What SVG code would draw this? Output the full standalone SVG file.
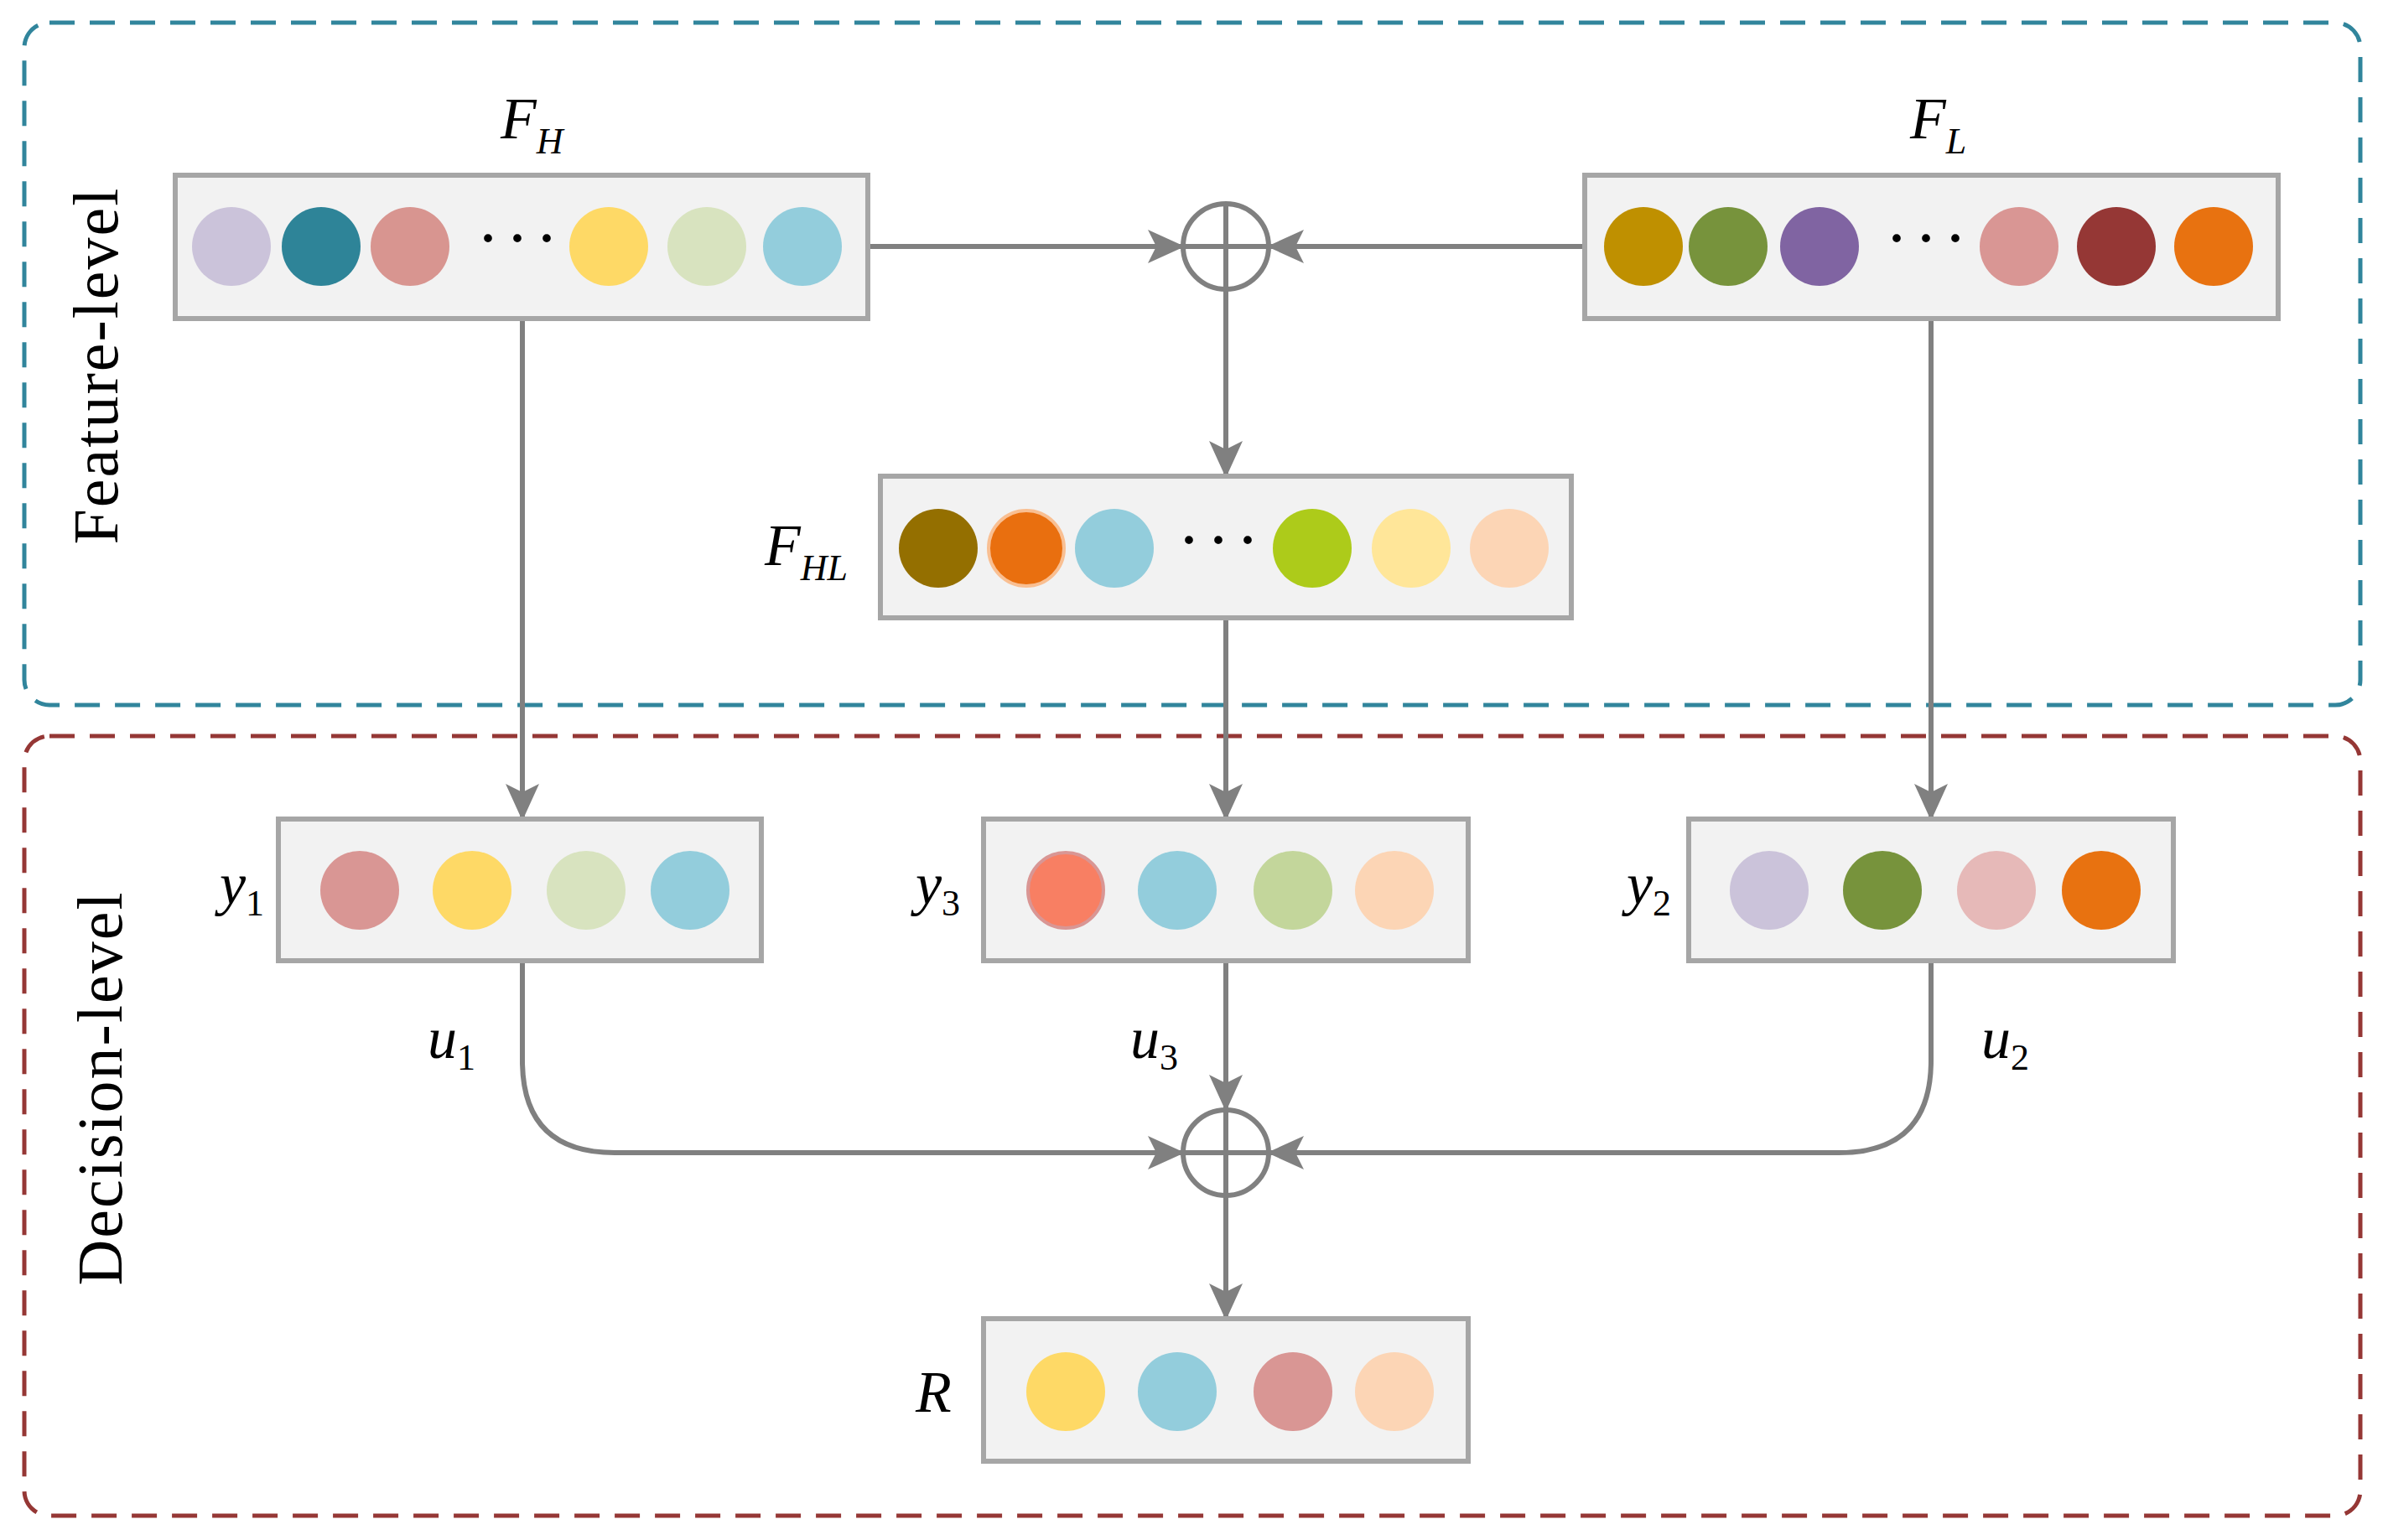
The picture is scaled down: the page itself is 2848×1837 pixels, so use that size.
<svg xmlns="http://www.w3.org/2000/svg" width="2848" height="1837" viewBox="0 0 2848 1837">
<style>
.box{fill:#f2f2f2;stroke:#a6a6a6;stroke-width:6}
.c{stroke:#808080;stroke-width:6;fill:none}
.lab{font-family:"Liberation Serif",serif;font-style:italic;font-size:70px;fill:#000}
.sub{font-size:44px}
.side{font-family:"Liberation Serif",serif;font-size:76px;fill:#000;letter-spacing:2px}
.dots{font-family:"Liberation Serif",serif;font-size:60px;font-weight:bold;fill:#000}
</style>
<defs>
<marker id="ah" markerUnits="userSpaceOnUse" markerWidth="44" markerHeight="44" viewBox="0 0 44 44" refX="42" refY="22" orient="auto">
<path d="M0 2 L44 22 L0 42 L10 22 Z" fill="#808080"/>
</marker>
</defs>
<rect x="29" y="27" width="2786" height="814" rx="30" fill="none" stroke="#31859C" stroke-width="5" stroke-dasharray="30 18"/>
<rect x="29" y="878" width="2786" height="930" rx="30" fill="none" stroke="#953735" stroke-width="5" stroke-dasharray="30 18"/>
<text class="side" transform="translate(140 436) rotate(-90)" text-anchor="middle">Feature-level</text>
<text class="side" transform="translate(145 1298) rotate(-90)" text-anchor="middle">Decision-level</text>
<g id="connectors">
<path class="c" d="M1035 294 H1411" marker-end="url(#ah)"/>
<path class="c" d="M1890 294 H1513" marker-end="url(#ah)"/>
<path class="c" d="M1462 345 V568" marker-end="url(#ah)"/>
<path class="c" d="M623 380 V977" marker-end="url(#ah)"/>
<path class="c" d="M2303 380 V977" marker-end="url(#ah)"/>
<path class="c" d="M1462 737 V977" marker-end="url(#ah)"/>
<path class="c" d="M1462 1146 V1324" marker-end="url(#ah)"/>
<path class="c" d="M623 1146 V1265 Q623 1375 733 1375 H1411" marker-end="url(#ah)"/>
<path class="c" d="M2303 1146 V1265 Q2303 1375 2193 1375 H1513" marker-end="url(#ah)"/>
<path class="c" d="M1462 1426 V1573" marker-end="url(#ah)"/>
</g>
<g id="oplus1"><circle class="c" cx="1462" cy="294" r="51"/><path class="c" d="M1411 294 H1513 M1462 243 V345"/></g>
<g id="oplus2"><circle class="c" cx="1462" cy="1375" r="51"/><path class="c" d="M1411 1375 H1513 M1462 1324 V1426"/></g>
<g id="FH">
<rect class="box" x="209" y="209" width="826" height="171"/>
<circle cx="276" cy="294" r="47" fill="#CBC3DA"/><circle cx="383" cy="294" r="47" fill="#2E8498"/><circle cx="489" cy="294" r="47" fill="#D89590"/>
<text class="dots" x="617" y="304" text-anchor="middle">· · ·</text>
<circle cx="726" cy="294" r="47" fill="#FED966"/><circle cx="843" cy="294" r="47" fill="#D8E3BF"/><circle cx="957" cy="294" r="47" fill="#93CDDC"/>
<text class="lab" x="597" y="165">F<tspan class="sub" dy="18">H</tspan></text>
</g>
<g id="FL">
<rect class="box" x="1890" y="209" width="827" height="171"/>
<circle cx="1960" cy="294" r="47" fill="#BF9000"/><circle cx="2061" cy="294" r="47" fill="#77933C"/><circle cx="2170" cy="294" r="47" fill="#8064A2"/>
<text class="dots" x="2297" y="304" text-anchor="middle">· · ·</text>
<circle cx="2408" cy="294" r="47" fill="#D99694"/><circle cx="2524" cy="294" r="47" fill="#953735"/><circle cx="2640" cy="294" r="47" fill="#E87210"/>
<text class="lab" x="2278" y="165">F<tspan class="sub" dy="18">L</tspan></text>
</g>
<g id="FHL">
<rect class="box" x="1050" y="568" width="824" height="169"/>
<circle cx="1119" cy="654" r="47" fill="#946F00"/><circle cx="1224" cy="654" r="45" fill="#E96F0F" stroke="#F9BF92" stroke-width="4"/><circle cx="1329" cy="654" r="47" fill="#93CDDC"/>
<text class="dots" x="1453" y="664" text-anchor="middle">· · ·</text>
<circle cx="1565" cy="654" r="47" fill="#ADCB1A"/><circle cx="1683" cy="654" r="47" fill="#FFE699"/><circle cx="1800" cy="654" r="47" fill="#FCD5B5"/>
<text class="lab" x="912" y="674">F<tspan class="sub" dy="18">HL</tspan></text>
</g>
<g id="y1">
<rect class="box" x="332" y="977" width="576" height="169"/>
<circle cx="429" cy="1062" r="47" fill="#D99694"/><circle cx="563" cy="1062" r="47" fill="#FED966"/><circle cx="699" cy="1062" r="47" fill="#D8E3BF"/><circle cx="823" cy="1062" r="47" fill="#93CDDC"/>
<text class="lab" x="262" y="1078">y<tspan class="sub" dy="14" font-style="normal">1</tspan></text>
</g>
<g id="y3">
<rect class="box" x="1173" y="977" width="578" height="169"/>
<circle cx="1271" cy="1062" r="45" fill="#F87F63" stroke="#D99694" stroke-width="4"/><circle cx="1404" cy="1062" r="47" fill="#93CDDC"/><circle cx="1542" cy="1062" r="47" fill="#C3D69B"/><circle cx="1663" cy="1062" r="47" fill="#FCD5B5"/>
<text class="lab" x="1092" y="1078">y<tspan class="sub" dy="14" font-style="normal">3</tspan></text>
</g>
<g id="y2">
<rect class="box" x="2014" y="977" width="578" height="169"/>
<circle cx="2110" cy="1062" r="47" fill="#CBC3DA"/><circle cx="2245" cy="1062" r="47" fill="#77933C"/><circle cx="2381" cy="1062" r="47" fill="#E6B9B8"/><circle cx="2506" cy="1062" r="47" fill="#E87210"/>
<text class="lab" x="1940" y="1078">y<tspan class="sub" dy="14" font-style="normal">2</tspan></text>
</g>
<g id="R">
<rect class="box" x="1173" y="1573" width="578" height="170"/>
<circle cx="1271" cy="1660" r="47" fill="#FED966"/><circle cx="1404" cy="1660" r="47" fill="#93CDDC"/><circle cx="1542" cy="1660" r="47" fill="#D99694"/><circle cx="1663" cy="1660" r="47" fill="#FCD5B5"/>
<text class="lab" x="1092" y="1684">R</text>
</g>
<text class="lab" x="510" y="1262">u<tspan class="sub" dy="14" font-style="normal">1</tspan></text>
<text class="lab" x="1348" y="1262">u<tspan class="sub" dy="14" font-style="normal">3</tspan></text>
<text class="lab" x="2363" y="1262">u<tspan class="sub" dy="14" font-style="normal">2</tspan></text>
</svg>
